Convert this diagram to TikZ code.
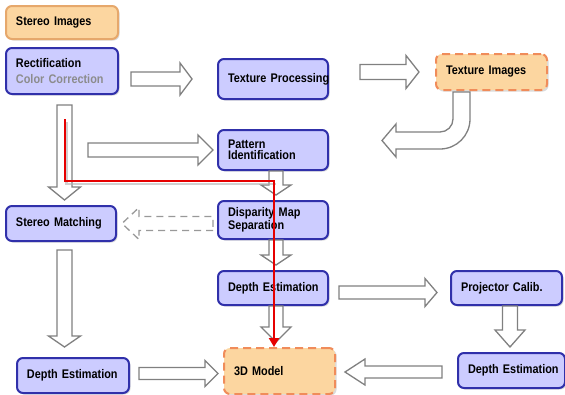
\documentclass[tikz,border=0pt]{standalone}
\usepackage{fontspec}
\newfontfamily\boxfont[FakeStretch=0.87]{Liberation Sans}
\usetikzlibrary{calc,shadows,arrows.meta}

\definecolor{boxblue}{RGB}{48,48,170}
\definecolor{boxfill}{RGB}{204,204,255}
\definecolor{srcfill}{RGB}{252,214,160}
\definecolor{srcline}{RGB}{230,168,108}
\definecolor{outline}{RGB}{240,140,90}
\definecolor{arrowgrey}{RGB}{128,128,128}
\definecolor{pathred}{RGB}{230,0,0}

\newcommand\shafthw{7pt}
\newcommand\headhw{15pt}
\newcommand\headlen{13pt}

\tikzset{
  shaftw/.code={\renewcommand\shafthw{#1}},
  headw/.code={\renewcommand\headhw{#1}},
  headl/.code={\renewcommand\headlen{#1}},
  hollowarrow/.style={draw=arrowgrey, fill=white, line width=1.3pt, line join=miter},
  ghostarrow/.style={draw=black!40, fill=none, dash pattern=on 7pt off 5pt},
  basebox/.style={anchor=north west, rounded corners=6pt, line width=2pt,
    inner xsep=10pt, inner ysep=0pt, text width=90pt, align=left,
    font={\boxfont\bfseries\fontsize{12.5}{11}\selectfont\hyphenpenalty=10000\exhyphenpenalty=10000},
    drop shadow={shadow xshift=1.5pt, shadow yshift=-1.5pt, fill=black!40, opacity=0.35}},
  procbox/.style={basebox, draw=boxblue, fill=boxfill},
  inbox/.style={basebox, draw=srcline, fill=srcfill},
  outbox/.style={basebox, draw=outline, fill=srcfill, dash pattern=on 8pt off 5pt},
  redpath/.style={draw=pathred, line width=2.8pt, -{Triangle[length=9pt,width=10pt]}},
}

% hollow block arrow from #2 to #3
\newcommand\blockarrow[3][]{%
  \begin{scope}[#1]
    \path #2 coordinate (ba-s) #3 coordinate (ba-t);
    \path ($(ba-t)!\headlen!(ba-s)$) coordinate (ba-h);
    \draw[hollowarrow,#1] ($(ba-s)!\shafthw!90:(ba-t)$) -- ($(ba-h)!\shafthw!-90:(ba-s)$)
      -- ($(ba-h)!\headhw!-90:(ba-s)$) -- (ba-t) -- ($(ba-h)!\headhw!90:(ba-s)$)
      -- ($(ba-h)!\shafthw!90:(ba-s)$) -- ($(ba-s)!\shafthw!-90:(ba-t)$) -- cycle;
  \end{scope}}

\begin{document}
\begin{tikzpicture}[x=1pt, y=-1pt]
  \fill[white] (0,0) rectangle (565,394);
  \useasboundingbox (0,0) rectangle (565,394);

  \node[inbox, minimum height=33pt, text width=92pt] (simg) at (5,5) {\mbox{Stereo Images}};
  \node[procbox, minimum height=46pt, text width=92pt] (rect) at (5,47) {Rectification\\[5pt]\textcolor{black!45}{\mbox{Color Correction}}};
  \node[procbox, minimum height=40pt] (texproc) at (217,58) {\mbox{Texture Processing}};
  \node[outbox, minimum height=36pt, text width=91pt] (teximg) at (435,53) {\mbox{Texture Images}};
  \node[procbox, minimum height=40pt] (pattern) at (217,129) {Pattern\\Identification};
  \node[procbox, minimum height=35pt] (smatch) at (5,205) {\mbox{Stereo Matching}};
  \node[procbox, minimum height=38pt] (disp) at (217,200) {\mbox{Disparity Map}\\Separation};
  \node[procbox, minimum height=34pt] (depthm) at (217,270) {\mbox{Depth Estimation}};
  \node[procbox, minimum height=34pt, text width=91pt] (proj) at (450,270) {\mbox{Projector Calib.}};
  \node[procbox, minimum height=35pt, text width=92pt] (depthl) at (16,357) {\mbox{Depth Estimation}};
  \node[outbox, minimum height=46pt, text width=91pt] (model) at (223,347) {\mbox{3D Model}};
  \node[procbox, minimum height=35pt, text width=87pt] (depthr) at (457,352) {\mbox{Depth Estimation}};

  \blockarrow[headw=16pt, headl=12pt]{([xshift=12pt]rect.east |- texproc.west)}{([xshift=-25pt]texproc.west)}
  \blockarrow[shaftw=7.5pt, headw=16.5pt]{([xshift=31pt]texproc.east |- teximg.west)}{([xshift=-16pt]teximg.west)}
  \draw[hollowarrow] ([xshift=-38.5pt,yshift=-1pt]teximg.south) -- ++(0,27)
    .. controls +(0,7.2) and +(7.2,0) .. ++(-13,13) -- ++(-44,0) -- ++(0,-8)
    -- ++(-14,16.5) -- ++(14,16.5) -- ++(0,-8) -- ++(44,0)
    .. controls +(16.6,0) and +(0,16.6) .. ++(30,-30) -- ++(0,-27) -- cycle;
  \blockarrow[headl=15pt]{($(pattern.west)+(-129,0)$)}{([xshift=-4pt]pattern.west)}
  \blockarrow[headl=10pt]{([xshift=3pt]pattern.south)}{([xshift=3pt,yshift=5pt]disp.north)}
  \blockarrow[shaftw=7.5pt, headw=16pt]{([xshift=2.5pt,yshift=-10pt]rect.south)}{([xshift=3.5pt,yshift=5pt]smatch.north)}
  \blockarrow[ghostarrow, headw=16pt, headl=17pt]{([xshift=-4pt]disp.west |- smatch.east)}{([xshift=5pt]smatch.east)}
  \blockarrow[headl=10pt]{([xshift=3pt]disp.south)}{([xshift=3pt,yshift=5pt]depthm.north)}
  \blockarrow[shaftw=7.5pt, headw=16pt, headl=11pt]{([xshift=3.5pt,yshift=-8pt]smatch.south)}{([xshift=-8.5pt,yshift=10pt]depthl.north)}
  \blockarrow[headl=15pt]{([xshift=3pt]depthm.south)}{([xshift=-3.5pt,yshift=5pt]model.north)}
  \blockarrow[shaftw=6.5pt, headw=14pt, headl=12pt]{([xshift=10pt,yshift=-4.5pt]depthm.east)}{([xshift=-13pt,yshift=-4.5pt]proj.west)}
  \blockarrow[shaftw=7.5pt, headl=17pt]{([xshift=3.5pt]proj.south)}{([xshift=-1.5pt,yshift=5pt]depthr.north)}
  \blockarrow[shaftw=6pt, headw=13pt]{([xshift=9pt,yshift=2pt]depthl.east)}{([xshift=-5pt,yshift=-2.5pt]model.west)}
  \blockarrow[shaftw=6pt, headw=13pt, headl=20pt]{([xshift=-15pt,yshift=-1.5pt]depthr.west)}{([xshift=9pt,yshift=-1pt]model.east)}

  \draw[black!30, line width=2.6pt, opacity=0.6, transform canvas={xshift=1.5pt,yshift=-3pt}]
    ([xshift=3pt,yshift=-24pt]rect.south) |- ([xshift=1pt,yshift=-10pt]pattern.south);
  \draw[redpath] ([xshift=3pt,yshift=-24pt]rect.south) |- ([xshift=1pt,yshift=-10pt]pattern.south) coordinate (rc)
    -- (rc |- model.north);
\end{tikzpicture}
\end{document}
